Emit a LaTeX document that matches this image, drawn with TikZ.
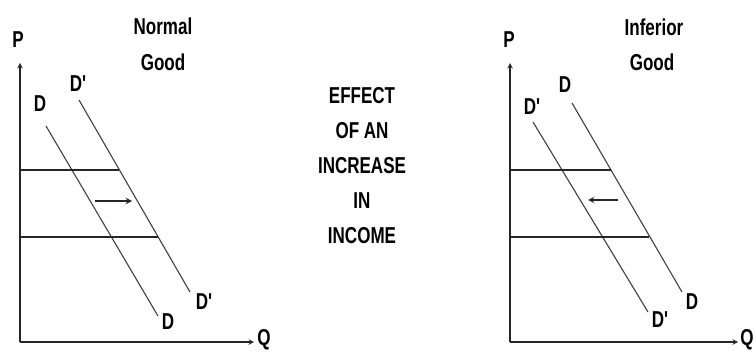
\documentclass[tikz,border=0pt]{standalone}
\usepackage{fontspec}
\newfontfamily\condfont[FakeStretch=0.74]{Liberation Sans}
\begin{document}
\begin{tikzpicture}[x=1pt,y=-1pt,
    every node/.style={font=\condfont\bfseries\fontsize{23}{35}\selectfont, inner sep=0pt},
    axis/.style={line width=1.4pt, black!85, ->, >=stealth},
    curve/.style={line width=1.1pt, black!75},
    level/.style={line width=1.9pt, black!85},
    move/.style={line width=1.8pt, black!85, ->, >=stealth}]

        \useasboundingbox (0,0) rectangle (756,353);

        % 正常品
        \coordinate (O1) at (20,342);
        \coordinate (P1) at (20,63);
        \coordinate (Q1) at (254,342);
        \draw[axis] (O1) -- (P1);
        \draw[axis] (O1) -- (Q1);
        \node (p1) at (18,40) {P};
        \node (q1) at (264,340) {Q};

        \coordinate (d1a) at (46,126);
        \coordinate (d1b) at (158,316);
        \coordinate (e1a) at (79,100);
        \coordinate (e1b) at (190,292);
        \draw[curve] (d1a) -- (d1b);
        \draw[curve] (e1a) -- (e1b);

        \coordinate (h1a) at (20,170);
        \coordinate (h1b) at (119,170);
        \coordinate (l1a) at (20,237);
        \coordinate (l1b) at (158,237);
        \draw[level] (h1a) -- (h1b);
        \draw[level] (l1a) -- (l1b);

        \coordinate (m1a) at (95,201);
        \coordinate (m1b) at (132,201);
        \draw[move] (m1a) -- (m1b);

        \node (d1top) at (40,104) {D};
        \node (e1top) at (78,84) {D'};
        \node (d1bot) at (168,322) {D};
        \node (e1bot) at (204,302) {D'};
        \node (n1) at (163,26) {Normal};
        \node (g1) at (163,62) {Good};

        % 中间文字
        \node[align=center] (mid) at (362,166) {EFFECT\\OF AN\\INCREASE\\IN\\INCOME};

        % 劣等品
        \coordinate (O2) at (510,342);
        \coordinate (P2) at (510,63);
        \coordinate (Q2) at (738,342);
        \draw[axis] (O2) -- (P2);
        \draw[axis] (O2) -- (Q2);
        \node (p2) at (509,40) {P};
        \node (q2) at (747,340) {Q};

        \coordinate (d2a) at (572,103);
        \coordinate (d2b) at (682,292);
        \coordinate (e2a) at (533,122);
        \coordinate (e2b) at (648,312);
        \draw[curve] (d2a) -- (d2b);
        \draw[curve] (e2a) -- (e2b);

        \coordinate (h2a) at (510,170);
        \coordinate (h2b) at (611,170);
        \coordinate (l2a) at (510,237);
        \coordinate (l2b) at (649,237);
        \draw[level] (h2a) -- (h2b);
        \draw[level] (l2a) -- (l2b);

        \coordinate (m2a) at (618,200);
        \coordinate (m2b) at (588,200);
        \draw[move] (m2a) -- (m2b);

        \node (d2top) at (565,85) {D};
        \node (e2top) at (532,107) {D'};
        \node (d2bot) at (692,302) {D};
        \node (e2bot) at (660,320) {D'};
        \node (n2) at (654,27) {Inferior};
        \node (g2) at (652,62) {Good};
    \end{tikzpicture}
\end{document}
